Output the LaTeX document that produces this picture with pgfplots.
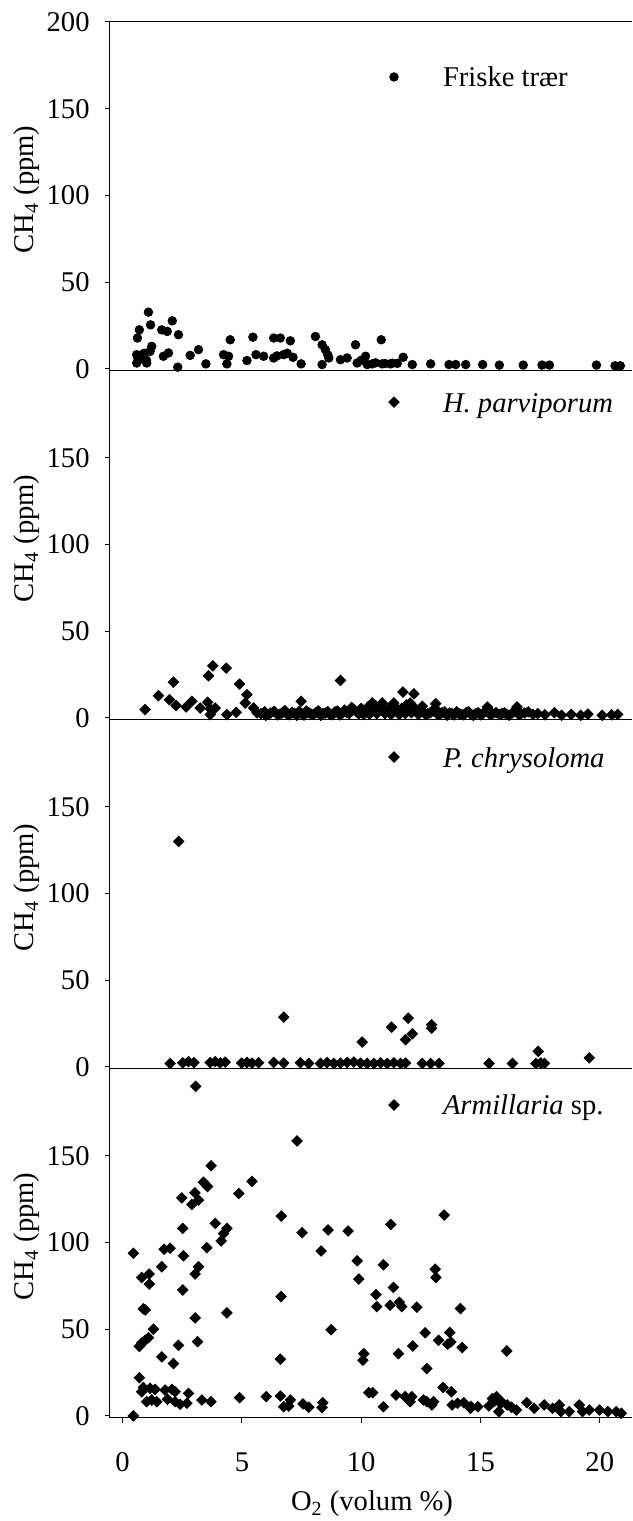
\documentclass[border=0pt]{standalone}
\usepackage{fontspec}
\setmainfont{Liberation Serif}
\usepackage{pgfplots}
\pgfplotsset{compat=1.18}

\pgfplotsset{
  panel/.style={
    scale only axis, width=261pt, height=174.5pt,
    xmin=-0.53, xmax=21.35, ymin=-1.2, ymax=200,
    clip=false,
    axis x line*=bottom, axis y line*=left,
    tick align=outside, major tick length=2.5pt,
    every tick/.style={black, line width=0.5pt},
    axis line style={line width=0.5pt},
    ytick={0,50,100,150},
    xtick=\empty,
    font=\fontsize{14.3}{17}\selectfont,
    /pgf/number format/assume math mode=true,
    yticklabel style={anchor=east, inner sep=0pt, xshift=-7.5pt},
    ylabel={CH\textsubscript{4} (ppm)},
    ylabel style={at={(rel axis cs:0,0.52)}, anchor=center, yshift=41.5pt},
    legend cell align=left,
    legend style={draw=none, fill=none, inner sep=0pt, outer sep=0pt,
      nodes={inner sep=0pt}, cells={anchor=base west}, anchor=north west,
      /tikz/every odd column/.append style={column sep=21.5pt}},
    legend image code/.code={\path[draw=none,fill=none] (-3pt,0pt) rectangle (3pt,12pt);
      \draw[##1] plot coordinates {(0pt,5pt)};},
  },
  dots/.style={only marks, mark=*, mark size=2.15pt, black},
  diam/.style={only marks, mark=square*, mark size=1.85pt, black, mark options={rotate=45}},
}

\begin{document}
\begin{tikzpicture}
% Panel 1: Friske traer
\begin{axis}[panel, at={(0,523.5pt)}, axis x line*=box, ytick={0,50,100,150,200},
  legend style={at={(rel axis cs:0.5326,0.8825)}}]
\addplot[dots] table[row sep=\\]{
x y\\
1.08 32.7\\ 1.17 25.4\\ 2.08 27.7\\ 0.70 22.5\\ 0.62 17.8\\ 1.64 22.5\\ 1.87 21.6\\
2.34 19.7\\ 1.22 13.0\\ 1.15 10.1\\ 0.59 8.2\\ 0.80 7.3\\ 0.59 3.4\\ 1.01 3.4\\
1.71 7.3\\ 1.92 9.2\\ 2.31 1.0\\ 2.83 7.8\\ 3.18 11.1\\ 3.49 2.9\\ 4.51 16.8\\
4.23 8.2\\ 4.44 7.3\\ 4.37 2.9\\ 5.46 18.3\\ 5.21 4.8\\ 5.59 8.2\\ 5.91 7.3\\
6.33 6.3\\ 6.33 17.8\\ 6.61 17.8\\ 7.03 16.2\\ 6.75 8.2\\ 7.14 6.7\\ 7.48 2.9\\
8.08 18.7\\ 8.36 13.9\\ 8.50 11.1\\ 8.64 6.3\\ 8.36 2.5\\ 9.13 5.3\\ 9.41 6.3\\
9.76 13.9\\ 9.83 3.4\\ 10.18 7.3\\ 10.25 2.5\\ 10.84 16.8\\ 10.46 2.9\\ 10.88 2.9\\
11.23 2.9\\ 11.51 3.2\\ 11.76 6.7\\ 12.14 2.5\\ 12.91 2.9\\ 13.68 2.5\\ 13.96 2.5\\
14.38 2.5\\ 15.09 2.5\\ 15.79 2.2\\ 16.79 2.2\\ 17.58 2.2\\ 17.89 2.2\\ 19.86 2.2\\
20.64 1.8\\ 20.86 1.8\\ 0.70 5.5\\ 0.90 9.0\\ 0.65 6.0\\ 1.00 5.0\\ 6.47 7.5\\
6.90 9.0\\ 8.60 8.0\\ 10.00 5.0\\ 10.60 3.5\\ 11.00 3.1\\ 11.30 3.3\\
};
\addlegendentry{Friske trær}
\end{axis}

% Panel 2: H. parviporum
\begin{axis}[panel, at={(0,349pt)}, legend style={at={(rel axis cs:0.5326,0.951)}}]
\addplot[diam] table[row sep=\\]{
x y\\
0.94 4.8\\ 1.50 12.8\\ 2.13 20.6\\ 1.96 10.5\\ 2.24 7.1\\ 2.66 6.3\\ 2.90 9.6\\
3.25 5.7\\ 3.56 9.0\\ 3.67 5.2\\ 3.88 5.7\\ 3.78 30.0\\ 3.60 24.3\\ 4.34 28.7\\
4.90 19.5\\ 5.21 13.4\\ 5.14 8.6\\ 4.37 1.9\\ 4.76 3.2\\ 3.67 1.9\\ 5.49 5.7\\
5.63 2.9\\ 7.48 9.6\\ 9.13 21.6\\ 11.75 14.9\\ 12.21 13.9\\ 12.05 8.6\\ 13.12 8.2\\
12.56 6.7\\ 10.46 8.6\\ 10.88 8.6\\ 11.37 8.6\\ 15.29 6.3\\ 16.53 6.3\\
5.8 2.5\\ 6.0 1.5\\ 6.2 2.8\\ 6.5 1.8\\ 6.7 3.0\\ 6.9 2.0\\ 7.1 3.2\\ 7.3 1.5\\
7.5 2.5\\ 7.7 4.0\\ 7.9 2.2\\ 8.1 3.0\\ 8.3 1.5\\ 8.5 2.8\\ 8.7 2.0\\ 8.9 3.5\\
9.1 1.8\\ 9.3 4.5\\ 9.5 2.5\\ 9.6 6.0\\ 9.8 3.5\\ 10.0 5.5\\ 10.1 2.0\\ 10.3 6.5\\
10.4 3.0\\ 10.6 7.0\\ 10.7 4.0\\ 10.9 5.5\\ 11.0 2.5\\ 11.2 6.0\\ 11.3 3.5\\
11.5 5.0\\ 11.6 2.0\\ 11.8 4.0\\ 11.9 7.5\\ 12.1 3.0\\ 12.3 5.0\\ 12.4 2.0\\
12.6 3.5\\ 12.8 2.5\\ 13.0 4.0\\ 13.2 2.0\\ 13.4 3.0\\ 13.6 1.5\\ 13.8 2.5\\
14.0 3.5\\ 14.2 2.0\\ 14.4 3.0\\ 14.6 2.0\\ 14.8 2.5\\ 15.0 1.8\\ 15.3 4.5\\
15.5 2.5\\ 15.8 2.0\\ 16.0 3.0\\ 16.2 1.5\\ 16.5 5.0\\ 16.7 2.5\\ 17.0 3.5\\
17.2 2.0\\ 17.4 2.5\\ 17.7 1.8\\ 18.1 3.0\\ 18.4 1.5\\ 18.8 2.0\\ 19.2 1.5\\
19.5 2.2\\ 20.1 1.5\\ 20.5 1.8\\ 20.75 2.0\\
5.95 3.5\\ 6.1 2.0\\ 6.35 3.8\\ 6.6 2.2\\ 6.8 4.2\\ 7.0 1.8\\ 7.2 2.6\\ 7.4 3.8\\
7.6 1.6\\ 7.8 3.0\\ 8.0 2.0\\ 8.2 4.0\\ 8.4 2.4\\ 8.6 3.6\\ 8.8 1.8\\ 9.0 4.0\\
9.2 2.6\\ 9.4 3.0\\ 9.7 4.8\\ 9.9 2.4\\ 10.2 4.0\\ 10.35 2.2\\ 10.5 5.0\\
10.65 2.5\\ 10.8 6.5\\ 10.95 3.5\\ 11.1 4.5\\ 11.25 2.0\\ 11.4 6.5\\ 11.55 3.0\\
11.7 5.5\\ 11.85 2.5\\ 12.0 4.5\\ 12.2 6.0\\ 12.35 3.5\\ 12.5 4.5\\ 12.7 2.0\\
12.9 3.0\\ 13.1 5.5\\ 13.3 2.2\\ 13.5 3.5\\ 13.7 2.8\\ 13.9 1.8\\ 14.1 2.5\\
14.3 1.8\\ 14.5 3.5\\ 14.7 1.5\\ 14.9 3.0\\ 15.1 2.5\\ 15.4 2.0\\ 15.65 3.0\\
15.9 2.5\\ 16.1 2.0\\ 16.35 3.0\\ 16.6 2.0\\ 16.85 2.8\\
};
\addlegendentry{\textit{H. parviporum}}
\end{axis}

% Panel 3: P. chrysoloma
\begin{axis}[panel, at={(0,174.5pt)}, legend style={at={(rel axis cs:0.5326,0.934)}}]
\addplot[diam] table[row sep=\\]{
x y\\
2.35 130\\ 6.75 28.7\\ 10.04 14.3\\ 11.27 22.9\\ 11.97 28.1\\ 12.14 19.1\\
11.86 15.7\\ 12.95 24.3\\ 12.95 22.3\\ 17.42 9.0\\ 19.56 5.2\\ 17.53 2.3\\
17.32 2.0\\ 1.99 2.0\\ 2.52 2.3\\ 2.76 3.0\\ 2.99 2.5\\ 3.67 2.5\\ 3.88 3.0\\
4.09 2.3\\ 4.30 2.8\\ 4.99 2.2\\ 5.21 2.6\\ 5.42 2.2\\ 5.70 2.4\\ 6.33 2.6\\
6.75 2.2\\ 7.45 2.4\\ 7.80 2.0\\ 8.29 2.0\\ 8.57 2.5\\ 8.85 2.0\\ 9.13 2.2\\
9.41 2.6\\ 9.69 2.8\\ 9.97 2.2\\ 10.25 2.0\\ 10.53 2.0\\ 10.81 2.3\\ 11.09 2.0\\
11.37 2.4\\ 11.65 2.0\\ 11.86 2.2\\ 12.56 2.0\\ 12.91 2.0\\ 13.26 2.0\\
15.36 2.0\\ 16.34 2.0\\ 17.68 2.0\\
};
\addlegendentry{\textit{P. chrysoloma}}
\end{axis}

% Panel 4: Armillaria sp.
\begin{axis}[panel, at={(0,0pt)}, legend style={at={(rel axis cs:0.5326,0.937)}},
  xtick={0,5,10,15,20},
  xticklabel style={anchor=center, inner sep=0pt, yshift=-19.5pt},
  xlabel={O\textsubscript{2} (volum \%)},
  xlabel style={at={(rel axis cs:0.502,0)}, anchor=center, yshift=-43pt}]
\addplot[diam] table[row sep=\\]{
x y\\
3.06 190\\ 7.31 158.5\\ 3.71 144.2\\ 5.42 135.2\\ 3.39 134.7\\ 3.56 132.2\\
3.03 128.6\\ 2.48 125.7\\ 3.18 124.4\\ 2.90 121.9\\ 4.87 128.2\\ 6.65 115.2\\
7.52 105.6\\ 8.61 107.2\\ 9.45 106.6\\ 2.52 108.1\\ 3.88 111.0\\ 4.37 108.1\\
4.23 105.1\\ 4.13 100.9\\ 8.32 95.1\\ 9.83 89.4\\ 9.90 78.9\\ 0.45 93.8\\
1.74 96.1\\ 1.99 96.7\\ 2.55 92.3\\ 3.53 97.0\\ 1.64 86.0\\ 3.18 86.0\\
3.04 81.8\\ 0.80 79.8\\ 1.11 81.8\\ 1.12 76.0\\ 2.52 72.6\\ 6.64 68.8\\
0.87 61.7\\ 0.95 61.1\\ 4.37 59.4\\ 3.04 56.5\\ 8.74 49.7\\ 1.29 50.0\\
1.08 45.1\\ 0.94 43.6\\ 0.80 42.0\\ 0.70 40.1\\ 2.34 40.7\\ 3.14 42.8\\
1.64 34.0\\ 2.13 30.2\\ 6.61 32.7\\ 10.11 35.9\\ 10.07 32.1\\ 0.70 22.0\\
0.87 16.4\\ 0.80 13.9\\ 1.15 15.9\\ 1.36 15.3\\ 1.78 14.9\\ 2.07 15.3\\
2.20 13.9\\ 2.76 13.0\\ 1.01 8.2\\ 1.22 9.2\\ 1.43 8.2\\ 1.88 9.6\\ 2.20 8.2\\
2.41 6.7\\ 2.69 7.3\\ 3.32 9.2\\ 3.70 8.2\\ 4.90 10.5\\ 6.02 11.1\\ 6.61 11.5\\
7.03 9.2\\ 6.75 5.3\\ 6.96 5.7\\ 7.56 6.9\\ 7.80 5.0\\ 8.39 7.6\\ 8.36 4.8\\
10.32 13.4\\ 0.45 0.0\\
13.48 115.8\\ 11.24 110.4\\ 10.93 87.1\\ 13.10 84.6\\ 13.13 79.8\\ 11.35 74.1\\
10.62 69.9\\ 10.65 63.0\\ 11.21 63.8\\ 11.60 65.5\\ 11.70 63.0\\ 12.33 62.7\\
14.16 61.9\\ 12.68 47.9\\ 13.71 48.1\\ 13.24 43.6\\ 13.62 41.3\\ 13.76 42.6\\
14.23 39.4\\ 12.16 40.3\\ 11.56 35.9\\ 16.10 37.4\\ 12.75 27.3\\ 13.43 16.4\\
13.78 13.9\\ 10.48 13.4\\ 10.93 5.3\\ 11.46 12.0\\ 11.84 11.1\\ 12.05 8.2\\
12.12 11.1\\ 12.61 9.2\\ 12.75 8.2\\ 12.96 6.3\\ 13.03 8.2\\ 13.81 6.3\\
14.04 7.3\\ 14.30 7.6\\ 14.58 4.4\\ 14.89 5.3\\ 15.35 5.7\\ 15.67 11.1\\
15.56 8.2\\ 15.84 7.3\\ 15.77 2.5\\ 16.12 6.3\\ 16.50 3.4\\ 16.94 7.6\\
17.25 4.4\\ 17.67 6.3\\ 18.02 4.4\\ 18.30 6.3\\ 18.37 2.5\\ 18.72 2.5\\
19.14 6.3\\ 19.28 2.5\\ 19.56 3.4\\ 19.99 3.4\\ 20.34 2.5\\ 20.69 2.5\\
20.90 1.5\\ 15.5 10.0\\ 15.9 8.0\\ 16.3 5.0\\ 14.6 5.5\\
};
\addlegendentry{\textit{Armillaria} sp.}
\end{axis}
\pgfresetboundingbox
\path[use as bounding box] (-55pt,-51.5pt) rectangle (261pt,709pt);
\end{tikzpicture}
\end{document}
